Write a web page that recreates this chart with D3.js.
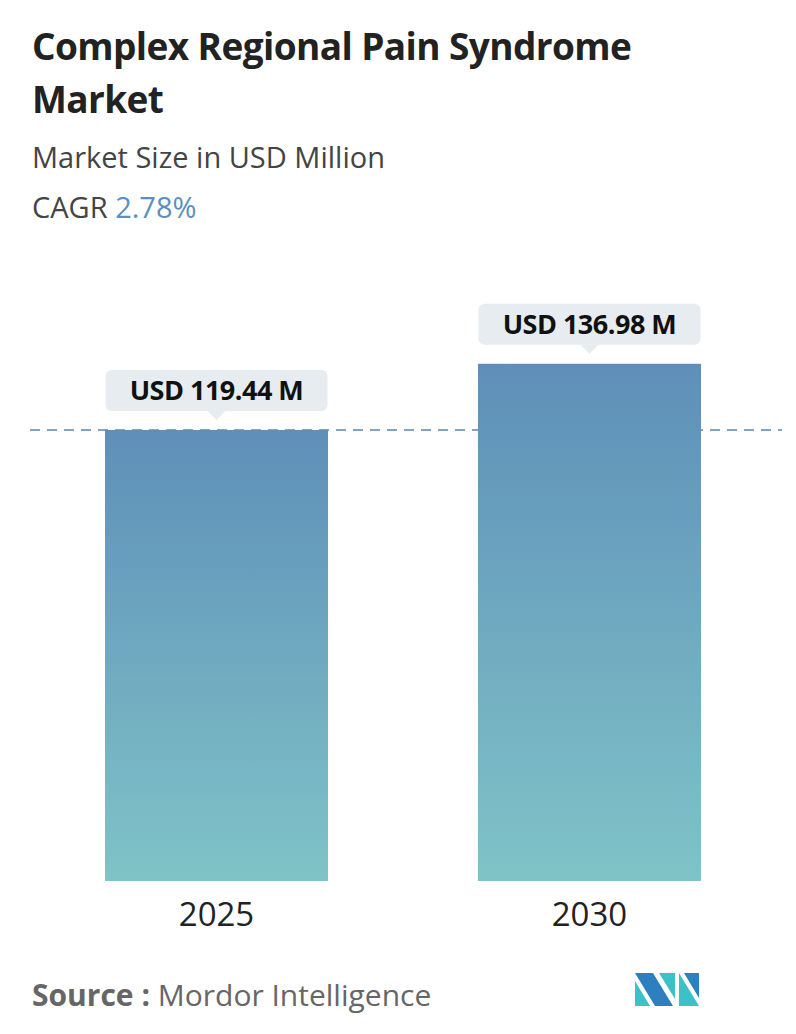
<!DOCTYPE html>
<html><head><meta charset="utf-8">
<script src="https://cdn.jsdelivr.net/npm/d3@7"></script>
<style>body{margin:0;background:#fff}</style></head>
<body><svg id="chart" width="796" height="1034"></svg>
<script>
var years = ["2025", "2030"];
var values = [119.44, 136.98];
var labels = ["USD 119.44 M", "USD 136.98 M"];

var svg = d3.select("#chart");
var font = "'Open Sans', 'Noto Sans', sans-serif";

// titles
svg.append("text").attr("x", 32).attr("y", 60).text("Complex Regional Pain Syndrome")
  .attr("font-family", font).attr("font-weight", 700).attr("font-size", 37).attr("fill", "#222").attr("letter-spacing", -0.6);
svg.append("text").attr("x", 32).attr("y", 113).text("Market")
  .attr("font-family", font).attr("font-weight", 700).attr("font-size", 37).attr("fill", "#222").attr("letter-spacing", -0.6);
svg.append("text").attr("x", 32).attr("y", 168).text("Market Size in USD Million")
  .attr("font-family", font).attr("font-size", 29).attr("fill", "#444");
var cagr = svg.append("text").attr("x", 32).attr("y", 218)
  .attr("font-family", font).attr("font-size", 29).attr("fill", "#444");
cagr.append("tspan").text("CAGR ");
cagr.append("tspan").text("2.78%").attr("fill", "#5a8fc0");

// scales
var x = d3.scaleBand().domain(years).range([105, 701]).paddingInner(0.402).paddingOuter(0);
var y = d3.scaleLinear().domain([0, 119.44]).range([881, 430]);

var defs = svg.append("defs");
var grad = defs.append("linearGradient").attr("id", "g").attr("x1", 0).attr("y1", 0).attr("x2", 0).attr("y2", 1);
grad.append("stop").attr("offset", "0%").attr("stop-color", "#5f8fb9");
grad.append("stop").attr("offset", "100%").attr("stop-color", "#7fc3c7");

// dashed reference line at first value (behind bars)
svg.append("line").attr("x1", 30).attr("x2", 782).attr("y1", y(values[0])).attr("y2", y(values[0]))
  .attr("stroke", "#5a87a8").attr("stroke-width", 1.5).attr("stroke-dasharray", "10,7");

svg.selectAll("rect.bar").data(values).enter().append("rect").attr("class", "bar")
  .attr("x", function (d, i) { return x(years[i]); })
  .attr("y", function (d) { return y(d); })
  .attr("width", x.bandwidth())
  .attr("height", function (d) { return y(0) - y(d); })
  .attr("fill", "url(#g)");

// value labels
values.forEach(function (v, i) {
  var cx = x(years[i]) + x.bandwidth() / 2;
  var top = y(v) - 60;
  var g = svg.append("g");
  g.append("rect").attr("x", cx - 111).attr("y", top).attr("width", 222).attr("height", 41).attr("rx", 6).attr("fill", "#e6ecef");
  g.append("path").attr("d", "M" + (cx - 9) + "," + (top + 41) + "L" + cx + "," + (top + 50) + "L" + (cx + 9) + "," + (top + 41) + "Z").attr("fill", "#e6ecef");
  g.append("text").attr("x", cx).attr("y", top + 30).attr("text-anchor", "middle").text(labels[i])
    .attr("font-family", font).attr("font-weight", 700).attr("font-size", 27).attr("fill", "#111").attr("letter-spacing", -0.5);
});

// x axis labels
svg.selectAll("text.year").data(years).enter().append("text").attr("class", "year")
  .attr("x", function (d) { return x(d) + x.bandwidth() / 2; }).attr("y", 926)
  .attr("text-anchor", "middle").text(function (d) { return d; })
  .attr("font-family", font).attr("font-size", 33).attr("fill", "#222");

// source
var src = svg.append("text").attr("x", 32).attr("y", 1006).attr("font-family", font).attr("font-size", 30).attr("fill", "#666");
src.append("tspan").text("Source : ").attr("font-weight", 700);
src.append("tspan").text("Mordor Intelligence");

// logo
var lg = svg.append("g").attr("transform", "translate(635,973)");
lg.append("path").attr("d", "M0,0 L18,0 L38,33 L20,33 Z").attr("fill", "#2e7fc0");
lg.append("path").attr("d", "M0,8 L15,33 L0,33 Z").attr("fill", "#3cc1c9");
lg.append("path").attr("d", "M24,0 L40,0 L40,26 Z").attr("fill", "#3cc1c9");
lg.append("path").attr("d", "M44,0 L64,33 L44,33 Z").attr("fill", "#3cc1c9");
lg.append("path").attr("d", "M49,0 L64,0 L64,25 Z").attr("fill", "#2e7fc0");
</script></body></html>
